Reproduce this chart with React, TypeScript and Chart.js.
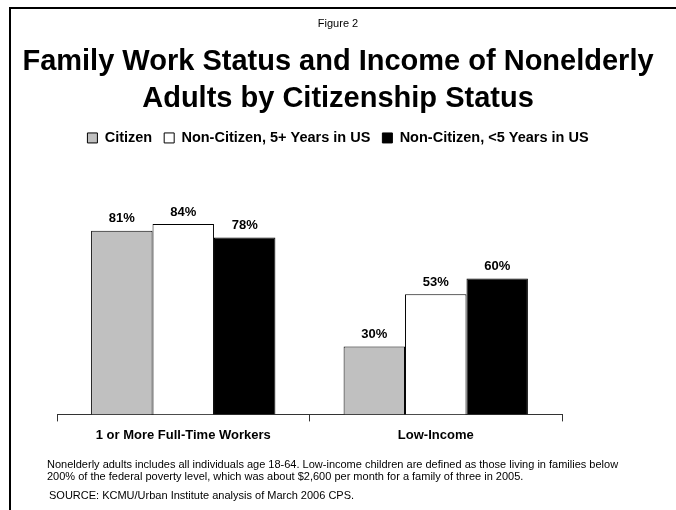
import { useEffect, useRef } from "react";
import { Chart, registerables } from "chart.js";

Chart.register(...registerables);

const FONT = "'Liberation Sans', Arial, Helvetica, sans-serif";

const figureLabel = "Figure 2";
const titleLines = ["Family Work Status and Income of Nonelderly", "Adults by Citizenship Status"];
const categories = ["1 or More Full-Time Workers", "Low-Income"];
const seriesNames = ["Citizen", "Non-Citizen, 5+ Years in US", "Non-Citizen, <5 Years in US"];
const citizenValues = [81, 30];
const nonCitizen5PlusValues = [84, 53];
const nonCitizenUnder5Values = [78, 60];
const seriesColors = ["#c0c0c0", "#ffffff", "#000000"];
const footnoteLines = [
  "Nonelderly adults includes all individuals age 18-64. Low-income children are defined as those living in families below",
  "200% of the federal poverty level, which was about $2,600 per month for a family of three in 2005.",
];
const sourceLine = "SOURCE: KCMU/Urban Institute analysis of March 2006 CPS.";

const W = 676;
const H = 510;

const framePlugin = {
  id: "frame",
  beforeDraw(chart: any) {
    const ctx = chart.ctx;
    ctx.save();
    ctx.fillStyle = "#ffffff";
    ctx.fillRect(0, 0, chart.width, chart.height);
    ctx.restore();
  },
  afterDraw(chart: any) {
    const ctx = chart.ctx;
    ctx.save();
    ctx.strokeStyle = "#000000";
    ctx.lineWidth = 2;
    ctx.beginPath();
    ctx.moveTo(10, chart.height);
    ctx.lineTo(10, 8);
    ctx.lineTo(chart.width, 8);
    ctx.stroke();
    ctx.fillStyle = "#000000";
    ctx.font = `11px ${FONT}`;
    ctx.textAlign = "left";
    ctx.textBaseline = "middle";
    ctx.fillText(footnoteLines[0], 47, 464.5);
    ctx.fillText(footnoteLines[1], 47, 477);
    ctx.fillText(sourceLine, 49, 495.5);
    ctx.restore();
  },
};

const valueLabelPlugin = {
  id: "valueLabels",
  afterDatasetsDraw(chart: any) {
    const ctx = chart.ctx;
    ctx.save();
    ctx.fillStyle = "#000000";
    ctx.font = `bold 13px ${FONT}`;
    ctx.textAlign = "center";
    ctx.textBaseline = "middle";
    chart.data.datasets.forEach((ds: any, i: number) => {
      const meta = chart.getDatasetMeta(i);
      meta.data.forEach((el: any, j: number) => {
        ctx.fillText(`${ds.data[j]}%`, el.x, el.y - 12);
      });
    });
    ctx.restore();
  },
};

export default function App() {
  const canvasRef = useRef<HTMLCanvasElement | null>(null);

  useEffect(() => {
    const canvas = canvasRef.current;
    if (!canvas) return;
    const seriesValues = [citizenValues, nonCitizen5PlusValues, nonCitizenUnder5Values];
    const chart = new Chart(canvas, {
      type: "bar",
      data: {
        labels: categories,
        datasets: seriesNames.map((name, i) => ({
          label: name,
          data: seriesValues[i],
          backgroundColor: seriesColors[i],
          borderColor: "#000000",
          borderWidth: 1,
          categoryPercentage: 0.73,
          barPercentage: 1.0,
          yAxisID: "y",
          xAxisID: "x",
        })),
      },
      options: {
        responsive: false,
        animation: false,
        devicePixelRatio: 1,
        layout: { padding: { left: 10, right: 10, top: 0, bottom: 61 } },
        plugins: {
          tooltip: { enabled: false },
          title: {
            display: true,
            text: figureLabel,
            color: "#000000",
            font: { family: FONT, size: 11, weight: "normal", lineHeight: 1.2 },
            padding: { top: 17, bottom: 14 },
          },
          subtitle: {
            display: true,
            text: titleLines,
            color: "#000000",
            font: { family: FONT, size: 29, weight: "bold", lineHeight: 1.25 },
            padding: { top: 0, bottom: 2 },
          },
          legend: {
            display: true,
            position: "top",
            labels: {
              color: "#000000",
              font: { family: FONT, size: 14.5, weight: "bold" },
              boxWidth: 10,
              boxHeight: 10,
              padding: 12,
            },
          },
        },
        scales: {
          x: {
            type: "category",
            position: "bottom",
            grid: {
              display: true,
              drawOnChartArea: false,
              drawTicks: true,
              tickLength: 7,
              color: "#333333",
              offset: true,
            },
            border: { display: true, color: "#333333", width: 1 },
            ticks: {
              color: "#000000",
              font: { family: FONT, size: 13, weight: "bold" },
              padding: 6,
              maxRotation: 0,
              autoSkip: false,
            },
          },
          spacer: {
            type: "linear",
            position: "top",
            axis: "x",
            display: true,
            ticks: { display: false },
            grid: { display: false, drawTicks: false },
            border: { display: false },
            afterFit(scale: any) {
              scale.height = 32.5;
            },
          },
          yLeft: {
            type: "linear",
            position: "left",
            axis: "y",
            display: true,
            ticks: { display: false },
            grid: { display: false, drawTicks: false },
            border: { display: false },
            afterFit(scale: any) {
              scale.width = 47;
            },
          },
          y: {
            type: "linear",
            position: "right",
            min: 0,
            max: 100,
            display: true,
            ticks: { display: false },
            grid: { display: false, drawTicks: false },
            border: { display: false },
            afterFit(scale: any) {
              scale.width = 104;
            },
          },
        },
      },
      plugins: [framePlugin, valueLabelPlugin],
    } as any);
    return () => chart.destroy();
  }, []);

  return (
    <div style={{ position: "fixed", left: 0, top: 0, width: W, height: H, background: "#fff" }}>
      <canvas ref={canvasRef} width={W} height={H} style={{ display: "block" }} />
    </div>
  );
}
